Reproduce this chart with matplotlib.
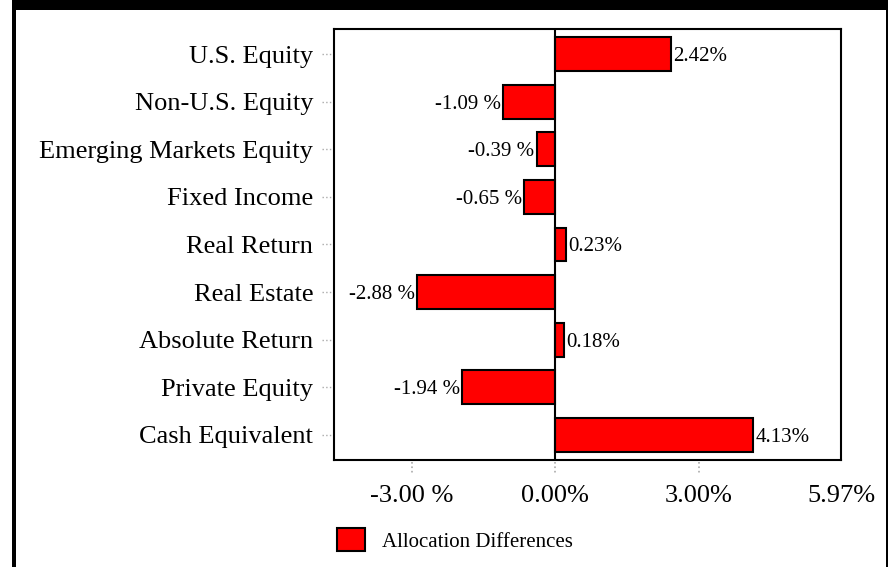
import matplotlib
matplotlib.use("Agg")
import matplotlib.pyplot as plt
from matplotlib.patches import Rectangle
from matplotlib.transforms import blended_transform_factory

plt.rcParams['font.family'] = ['Liberation Serif', 'DejaVu Serif']

### data
categories = ["U.S. Equity", "Non-U.S. Equity", "Emerging Markets Equity",
              "Fixed Income", "Real Return", "Real Estate", "Absolute Return",
              "Private Equity", "Cash Equivalent"]
differences = [2.42, -1.09, -0.39, -0.65, 0.23, -2.88, 0.18, -1.94, 4.13]
xticks = [-3.00, 0.00, 3.00, 5.97]
xtick_labels = ["-3.00 %", "0.00%", "3.00%", "5.97%"]
series_name = "Allocation Differences"

W, H = 888, 567
fig = plt.figure(figsize=(W / 100, H / 100), dpi=100)
fig.patch.set_facecolor("white")

def px(x0, y0, w, h):
    # pixel box (top-left origin) -> figure fraction
    return (x0 / W, 1 - (y0 + h) / H, w / W, h / H)

# black frame pieces around the panel
for box in [(12, 0, 876, 10), (12, 0, 4, H), (886, 0, 2, H)]:
    x, y, w, h = px(*box)
    fig.add_artist(Rectangle((x, y), w, h, transform=fig.transFigure,
                             facecolor="black", edgecolor="none", zorder=0))

ax = fig.add_axes(px(334, 29, 507, 431))

ypos = list(range(len(categories)))
bars = ax.barh(ypos, differences, height=0.71, color="#ff0000",
               edgecolor="black", linewidth=1.5, label=series_name, zorder=3)

ax.set_xlim(-4.62, 5.97)
ax.set_ylim(len(categories) - 0.47, -0.53)
ax.axvline(0, color="black", linewidth=1.5, zorder=4)

# value labels
for y, v in zip(ypos, differences):
    if v >= 0:
        ax.text(v + 0.05, y, "%.2f%%" % v, va="center_baseline", ha="left",
                fontsize=15)
    else:
        ax.text(v - 0.05, y, "%.2f %%" % v, va="center_baseline", ha="right",
                fontsize=15)

# category axis: dotted grey ticks drawn by hand
ax.set_yticks(ypos)
ax.set_yticklabels(categories, fontsize=19, va="center_baseline")
ax.tick_params(axis="y", length=0, pad=15)
ty = blended_transform_factory(ax.transAxes, ax.transData)
for y in ypos:
    ax.plot([-0.024, -0.003], [y, y], transform=ty, color="#aaaaaa",
            linestyle=":", linewidth=1, clip_on=False)

ax.set_xticks(xticks)
ax.set_xticklabels(xtick_labels, fontsize=19)
ax.tick_params(axis="x", length=0, pad=18)
tx = blended_transform_factory(ax.transData, ax.transAxes)
for x in xticks[:-1]:
    ax.plot([x, x], [-0.005, -0.03], transform=tx, color="#aaaaaa",
            linestyle=":", linewidth=1.2, clip_on=False)

for s in ax.spines.values():
    s.set_linewidth(1.5)
    s.set_color("black")

fig.legend(handles=[bars], labels=[series_name], loc="center left",
           bbox_to_anchor=(337 / W, 1 - 540 / H), frameon=False,
           fontsize=15, handlelength=1.35, handleheight=1.25,
           handletextpad=0.8, borderpad=0, borderaxespad=0)

fig.savefig("out.png", dpi=100)
